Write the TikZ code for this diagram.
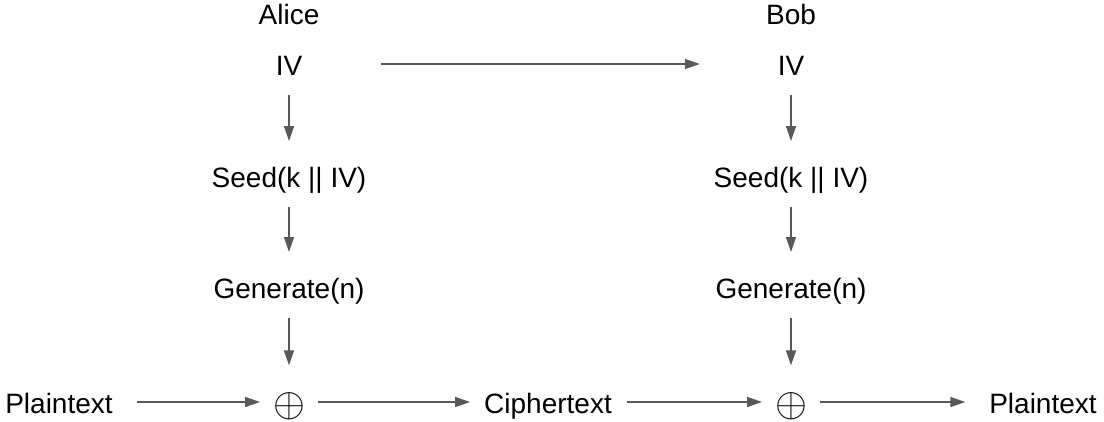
\documentclass[tikz,border=0pt]{standalone}
\usepackage{graphicx}
\usepackage{fontspec}
\setmainfont{Liberation Sans}
\usetikzlibrary{arrows.meta}
\definecolor{arrgray}{RGB}{89,89,89}
\begin{document}
\begin{tikzpicture}[x=1pt,y=-1pt,
  lbl/.style={inner sep=0pt,outer sep=0pt,font=\fontsize{28}{34}\selectfont,text height=24pt,text depth=2pt,anchor=base},
  xorop/.style={inner sep=0pt,outer sep=0pt,font=\normalsize},
  arr/.style={draw=arrgray,line width=1.4pt,-{Triangle[length=15pt,width=10pt]}},
  vert/.style={arr,shorten <=18pt,shorten >=22pt}]
\useasboundingbox (0,0) rectangle (1104,421);
% left column
\node[lbl] (alice) at (289,24) {Alice};
\node[lbl] (ivA) at (289,75) {IV};
\node[lbl] (seedA) at (289,187) {Seed(k || IV)};
\node[lbl] (genA) at (289,298) {Generate(n)};
\node[xorop] (xorA) at (289,406) {\scalebox{4.1}{$\oplus$}};
% right column
\node[lbl] (bob) at (791,24) {Bob};
\node[lbl] (ivB) at (791,75) {IV};
\node[lbl] (seedB) at (791,187) {Seed(k || IV)};
\node[lbl] (genB) at (791,298) {Generate(n)};
\node[xorop] (xorB) at (791,406) {\scalebox{4.1}{$\oplus$}};
% bottom row
\node[lbl] (plainA) at (59,413) {Plaintext};
\node[lbl] (cipher) at (548,413) {Ciphertext};
\node[lbl] (plainB) at (1043,413) {Plaintext};
% connectors
\draw[arr,shorten <=79pt,shorten >=78pt] (ivA) -- (ivB);
\draw[vert] (ivA) -- (seedA);
\draw[vert] (seedA) -- (genA);
\draw[vert,shorten >=27pt] (genA) -- (xorA);
\draw[vert] (ivB) -- (seedB);
\draw[vert] (seedB) -- (genB);
\draw[vert,shorten >=27pt] (genB) -- (xorB);
\draw[arr,shorten <=24pt,shorten >=13pt] (plainA.east) -- (plainA -| xorA.west);
\draw[arr,shorten <=13pt,shorten >=14pt] (cipher -| xorA.east) -- (cipher.west);
\draw[arr,shorten <=15pt,shorten >=13pt] (cipher.east) -- (cipher -| xorB.west);
\draw[arr,shorten <=13pt,shorten >=24pt] (plainB -| xorB.east) -- (plainB.west);
\end{tikzpicture}
\end{document}
